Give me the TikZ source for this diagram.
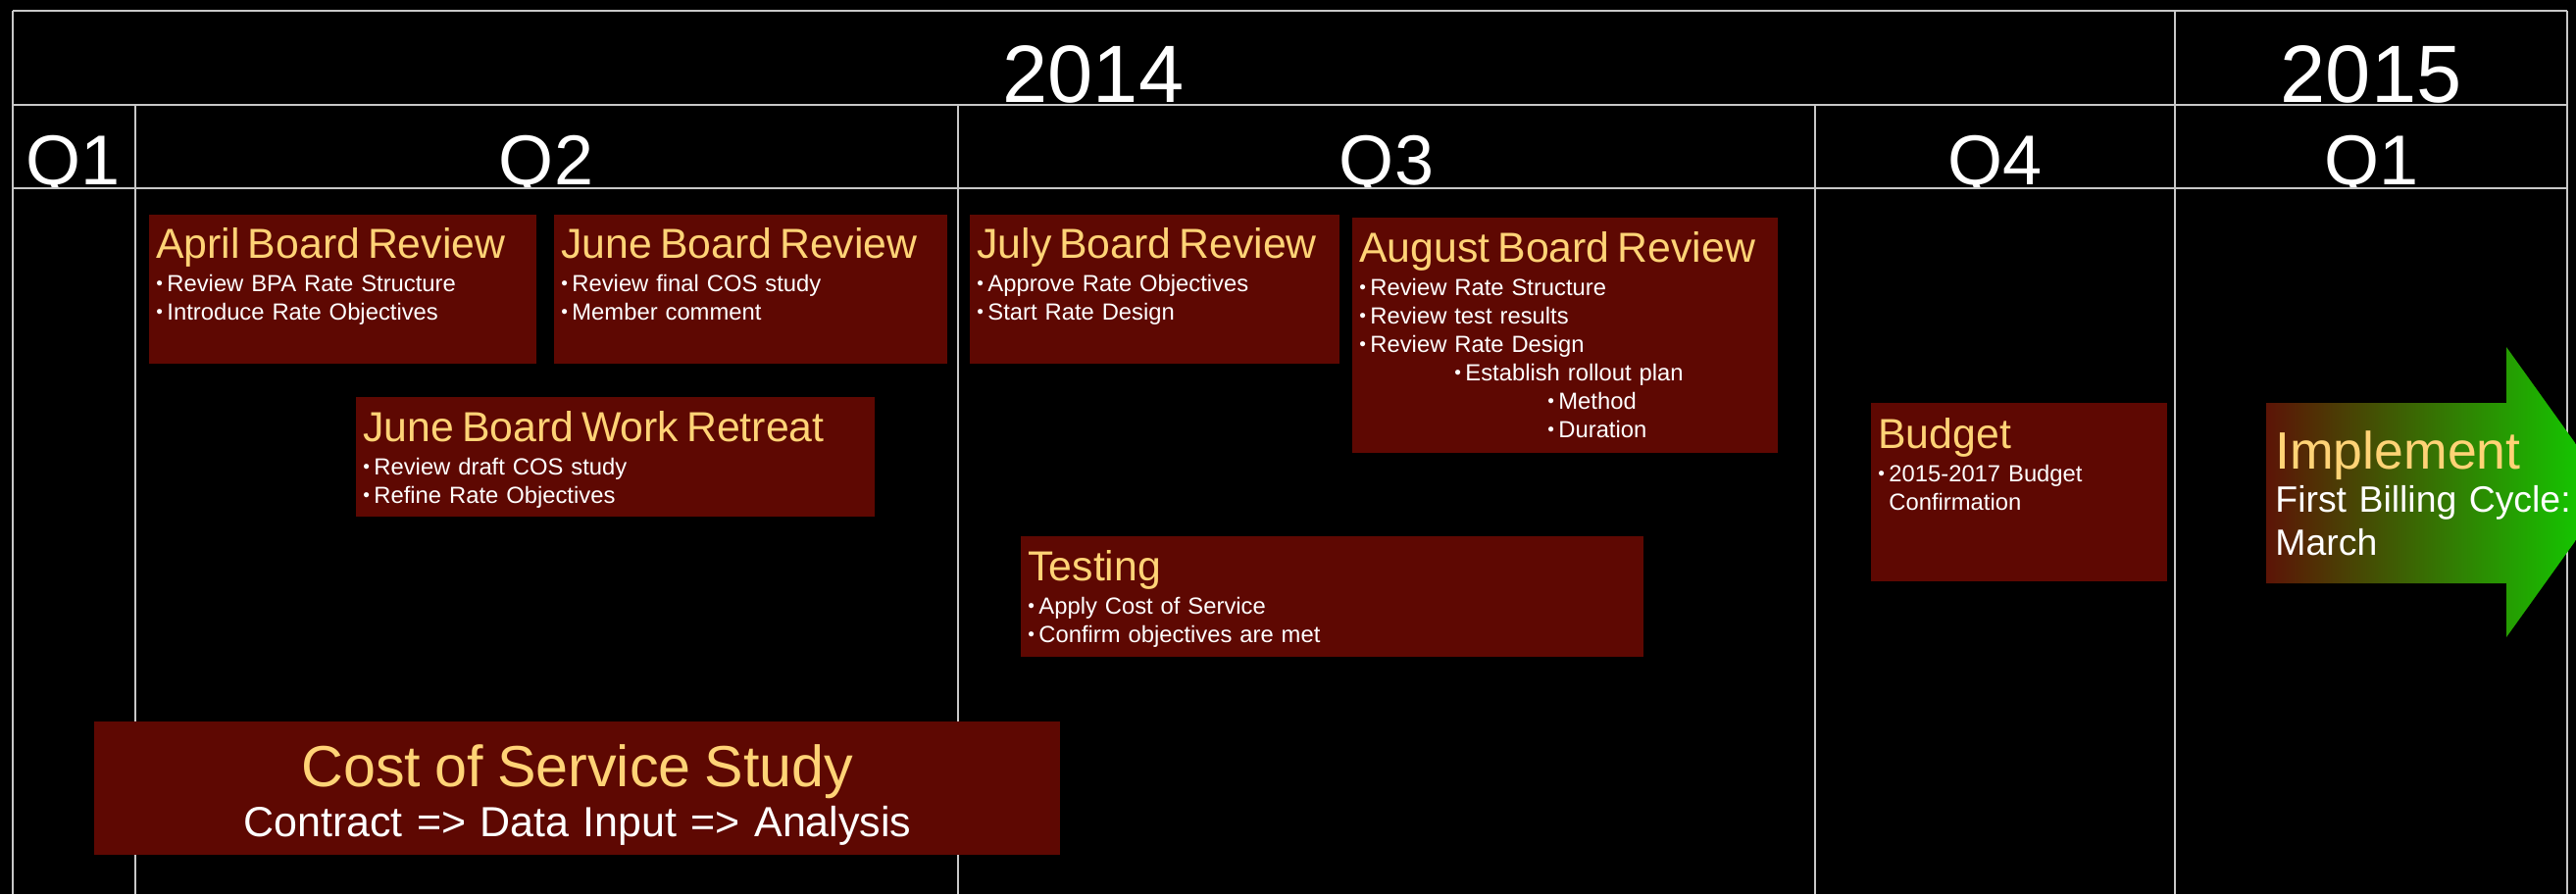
\documentclass[tikz,border=0pt]{standalone}
\usepackage{fontspec}
\setmainfont{Liberation Sans}
\usetikzlibrary{positioning}

\definecolor{boxred}{RGB}{94,8,2}
\definecolor{titleyel}{RGB}{255,211,118}
\definecolor{gridgray}{RGB}{200,200,200}
\definecolor{arrowred}{RGB}{92,20,6}
\definecolor{arrowgreen}{RGB}{14,214,0}

\newcommand\ttlfont{\fontsize{21.4pt}{25pt}\selectfont\color{titleyel}}
\newcommand\itm{\makebox[5.5pt][l]{\raisebox{1pt}{\scalebox{0.8}{\textbullet}}}}

\tikzset{
  grid line/.style={draw=gridgray, line width=1.2pt},
  year/.style={text=white, inner sep=0pt, anchor=base, font=\fontsize{41.5pt}{41.5pt}\selectfont},
  quarter/.style={text=white, inner sep=0pt, anchor=base, font=\fontsize{36pt}{36pt}\selectfont},
  evbox/.style={fill=boxred, inner sep=0pt, anchor=north west},
  evtext/.style={anchor=base west, inner sep=0pt, text width=#1, align=left, text=white,
    font=\fontsize{11.9pt}{14.5pt}\selectfont},
  evtext/.default=200pt,
}

\begin{document}
\begin{tikzpicture}[x=0.5pt,y=0.5pt]
\useasboundingbox (0,0) rectangle (2627,-912);
\fill[black] (0,0) rectangle (2627,-912);

% table
\begin{scope}
\clip (13,-11) rectangle (2618,-192);
\node[year] (yr14) at (1115,-104) {2014};
\node[year] (yr15) at (2418,-104) {2015};
\node[quarter] (q1) at (75,-188) {Q1};
\node[quarter] (q2) at (557,-188) {Q2};
\node[quarter] (q3) at (1414,-188) {Q3};
\node[quarter] (q4) at (2034,-188) {Q4};
\node[quarter] (q5) at (2418,-188) {Q1};
\end{scope}
\draw[grid line] (13,-11) -- (2618,-11);
\draw[grid line] (13,-107) -- (2618,-107);
\draw[grid line] (13,-192) -- (2618,-192);
\draw[grid line] (13,-11) -- (13,-912);
\draw[grid line] (2218,-11) -- (2218,-912);
\draw[grid line] (2618,-11) -- (2618,-912);
\foreach \x in {138,977,1851}
  \draw[grid line] (\x,-107) -- (\x,-912);

% boxes
\node[evbox, minimum width=197.5pt, minimum height=76pt] (april) at (152,-219) {};
\node[evbox, minimum width=200.5pt, minimum height=76pt] (junerev) at (565,-219) {};
\node[evbox, minimum width=188.5pt, minimum height=76pt] (julyrev) at (989,-219) {};
\node[evbox, minimum width=217pt, minimum height=120pt] (augrev) at (1379,-222) {};
\node[evbox, minimum width=264.5pt, minimum height=61pt] (retreat) at (363,-405) {};
\node[evbox, minimum width=317.5pt, minimum height=61.5pt] (testing) at (1041,-547) {};
\node[evbox, minimum width=151pt, minimum height=91pt] (budget) at (1908,-411) {};
\node[evbox, minimum width=492.5pt, minimum height=68pt] (cos) at (96,-736) {};

\node[evtext] (april-t) at ([shift={(7,-44)}]april.north west)
  {{\ttlfont April Board Review\par}\vspace{2.8pt}
   \itm Review BPA Rate Structure\par
   \itm Introduce Rate Objectives};
\node[evtext] (junerev-t) at ([shift={(7,-44)}]junerev.north west)
  {{\ttlfont June Board Review\par}\vspace{2.8pt}
   \itm Review final COS study\par
   \itm Member comment};
\node[evtext] (julyrev-t) at ([shift={(7,-44)}]julyrev.north west)
  {{\ttlfont July Board Review\par}\vspace{2.8pt}
   \itm Approve Rate Objectives\par
   \itm Start Rate Design};
\node[evtext=215pt] (augrev-t) at ([shift={(7,-45)}]augrev.north west)
  {{\ttlfont August Board Review\par}\vspace{2.8pt}
   \itm Review Rate Structure\par
   \itm Review test results\par
   \itm Review Rate Design\par
   \hspace*{48.5pt}\itm Establish rollout plan\par
   \hspace*{96pt}\itm Method\par
   \hspace*{96pt}\itm Duration};
\node[evtext=260pt] (retreat-t) at ([shift={(7,-45)}]retreat.north west)
  {{\ttlfont June Board Work Retreat\par}\vspace{2.8pt}
   \itm Review draft COS study\par
   \itm Refine Rate Objectives};
\node[evtext] (testing-t) at ([shift={(7,-45)}]testing.north west)
  {{\ttlfont Testing\par}\vspace{2.8pt}
   \itm Apply Cost of Service\par
   \itm Confirm objectives are met};
\node[evtext=145pt] (budget-t) at ([shift={(7,-46)}]budget.north west)
  {{\ttlfont Budget\par}\vspace{2.8pt}
   \itm 2015-2017 Budget\par
   \hspace*{5.5pt}Confirmation};

\node[anchor=base, inner sep=0pt, text width=480pt, align=center, text=white,
  font=\fontsize{21.5pt}{25.5pt}\selectfont] (cos-t) at ([yshift=-33pt]cos.north)
  {{\fontsize{29.6pt}{34pt}\selectfont\color{titleyel}Cost of Service Study\par}
   Contract => Data Input => Analysis};

% implement arrow
\shade[left color=arrowred, right color=arrowgreen]
  (2311,-411) -- (2556,-411) -- (2556,-354) -- (2662,-502) -- (2556,-650)
  -- (2556,-595) -- (2311,-595) -- cycle;
\node[anchor=base west, inner sep=0pt, text width=160pt, align=left, text=white,
  font=\fontsize{18.7pt}{22.2pt}\selectfont] (impl-t) at (2320,-478)
  {{\fontsize{26.8pt}{30pt}\selectfont\color{titleyel}Implement\par}
   First Billing Cycle:\par
   March};
\end{tikzpicture}
\end{document}
